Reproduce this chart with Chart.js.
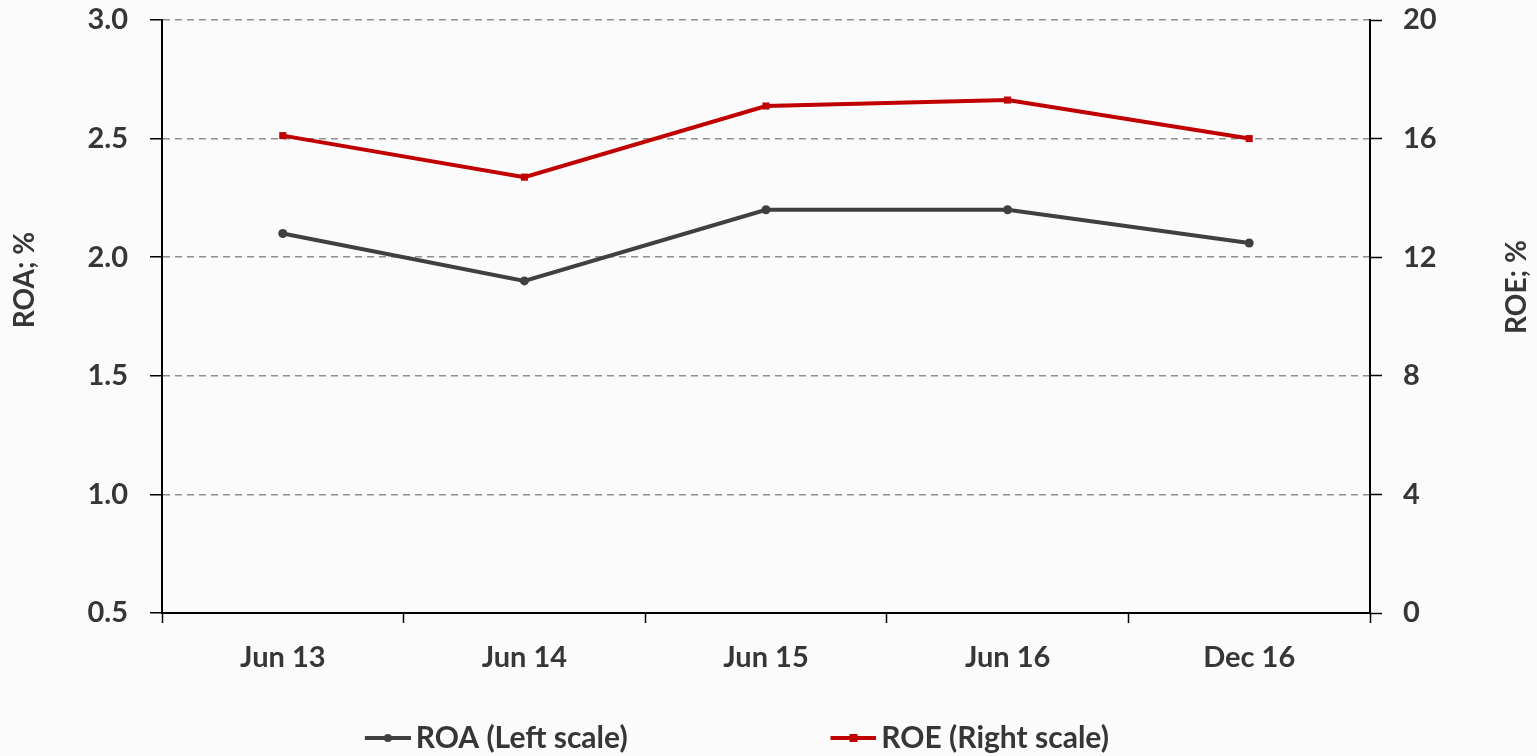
<!DOCTYPE html>
<html><head><meta charset="utf-8">
<script src="https://cdn.jsdelivr.net/npm/chart.js@4.4.0/dist/chart.umd.min.js"></script>
<style>html,body{margin:0;padding:0;background:#fbfbfc;overflow:hidden;} #wrap{width:1537px;height:756px;position:relative;}</style>
</head><body><div id="wrap"><canvas id="c" width="1537" height="756"></canvas></div>
<script>
const categories = ['Jun 13', 'Jun 14', 'Jun 15', 'Jun 16', 'Dec 16'];
const roaValues = [2.10, 1.90, 2.20, 2.20, 2.06];
const roeValues = [16.1, 14.7, 17.1, 17.3, 16.0];
const roaLabel = 'ROA (Left scale)';
const roeLabel = 'ROE (Right scale)';
const leftTitle = 'ROA; %';
const rightTitle = 'ROE; %';
const leftTicks = {min: 0.5, max: 3.0, step: 0.5};
const rightTicks = {min: 0, max: 20, step: 4};

const FAMILY = 'Lato';
const TEXT = '#363636';
const ROA_COLOR = '#404040';
const ROE_COLOR = '#C00000';
const LEG_FS = 30, LEG_PAD = 10;
const AREA_LEFT = 162, AREA_RIGHT = 1370;

Chart.defaults.font.family = FAMILY;

// measure legend text to place legend items
const mctx = document.createElement('canvas').getContext('2d');
mctx.font = 'bold ' + LEG_FS + 'px ' + FAMILY;
const T1 = mctx.measureText(roaLabel).width;
const S = (411 + 886 - 2 * AREA_LEFT - T1) / 3;
const BOXW = S - LEG_PAD - LEG_FS / 2;

function makeIcon(color, marker) {
  const W = Math.round(BOXW + 20);
  const c = document.createElement('canvas');
  c.width = W; c.height = 14;
  const g = c.getContext('2d');
  g.strokeStyle = color; g.lineWidth = 4;
  g.beginPath(); g.moveTo(W - 46, 7); g.lineTo(W, 7); g.stroke();
  g.fillStyle = color;
  if (marker === 'circle') { g.beginPath(); g.arc(W - 23, 7, 4, 0, Math.PI * 2); g.fill(); }
  else { g.fillRect(W - 27, 3, 8, 8); }
  return c;
}
const icons = [makeIcon(ROA_COLOR, 'circle'), makeIcon(ROE_COLOR, 'rect')];

const axisTitles = {
  id: 'axisTitles',
  afterDraw(chart) {
    const ctx = chart.ctx;
    const draw = (txt, x, y) => {
      ctx.save();
      ctx.font = 'bold 28px ' + FAMILY;
      ctx.fillStyle = TEXT;
      ctx.textAlign = 'center';
      ctx.textBaseline = 'middle';
      ctx.translate(x, y);
      ctx.rotate(-Math.PI / 2);
      ctx.fillText(txt, 0, 0);
      ctx.restore();
    };
    draw(leftTitle, 25, 280);
    draw(rightTitle, 1517, 287);
  }
};

const tickFont = {family: FAMILY, size: 29, weight: 'bold'};

new Chart(document.getElementById('c'), {
  type: 'line',
  data: {
    labels: categories,
    datasets: [
      {label: roaLabel, data: roaValues, yAxisID: 'y', borderColor: ROA_COLOR, backgroundColor: ROA_COLOR,
       borderWidth: 4, pointStyle: 'circle', pointRadius: 4.5, pointBorderWidth: 0, tension: 0},
      {label: roeLabel, data: roeValues, yAxisID: 'y2', borderColor: ROE_COLOR, backgroundColor: ROE_COLOR,
       borderWidth: 4, pointStyle: 'rect', pointRadius: 5, pointBorderWidth: 0, tension: 0}
    ]
  },
  options: {
    responsive: false,
    animation: false,
    devicePixelRatio: 1,
    layout: {padding: {left: 0, right: 0, top: 20, bottom: -7}},
    plugins: {
      tooltip: {enabled: false},
      legend: {
        position: 'bottom',
        align: 'start',
        fullSize: false,
        labels: {
          usePointStyle: true,
          pointStyleWidth: BOXW,
          padding: LEG_PAD,
          color: TEXT,
          font: {family: FAMILY, size: LEG_FS, weight: 'bold'},
          generateLabels(chart) {
            const items = Chart.defaults.plugins.legend.labels.generateLabels(chart);
            items.forEach((it, i) => { it.pointStyle = icons[i]; it.fontColor = TEXT; });
            return items;
          }
        }
      }
    },
    scales: {
      x: {
        type: 'category',
        offset: true,
        afterFit(s) { s.height = 100; },
        grid: {display: true, drawOnChartArea: false, drawTicks: true, tickLength: 10, tickColor: '#000', tickWidth: 1.5, offset: true},
        border: {color: '#000', width: 2},
        ticks: {font: tickFont, color: TEXT, padding: 17, maxRotation: 0}
      },
      y: {
        position: 'left',
        min: leftTicks.min, max: leftTicks.max,
        afterFit(s) { s.width = AREA_LEFT; s.paddingTop = 0; s.paddingBottom = 0; },
        ticks: {stepSize: leftTicks.step, font: tickFont, color: TEXT, padding: 22,
                callback: v => Number(v).toFixed(1)},
        grid: {color: '#8f8f8f', lineWidth: 1.5, tickLength: 12, tickColor: '#000', tickWidth: 1.5, tickBorderDash: []},
        border: {color: '#000', width: 2, dash: [7, 5]}
      },
      y2: {
        position: 'right',
        min: rightTicks.min, max: rightTicks.max,
        afterFit(s) { s.width = 1537 - AREA_RIGHT; s.paddingTop = 0; s.paddingBottom = 0; },
        ticks: {stepSize: rightTicks.step, font: tickFont, color: TEXT, padding: 21},
        grid: {drawOnChartArea: false, tickLength: 12, tickColor: '#000', tickWidth: 1.5},
        border: {color: '#000', width: 2}
      }
    }
  },
  plugins: [axisTitles]
});
</script>
</body></html>
